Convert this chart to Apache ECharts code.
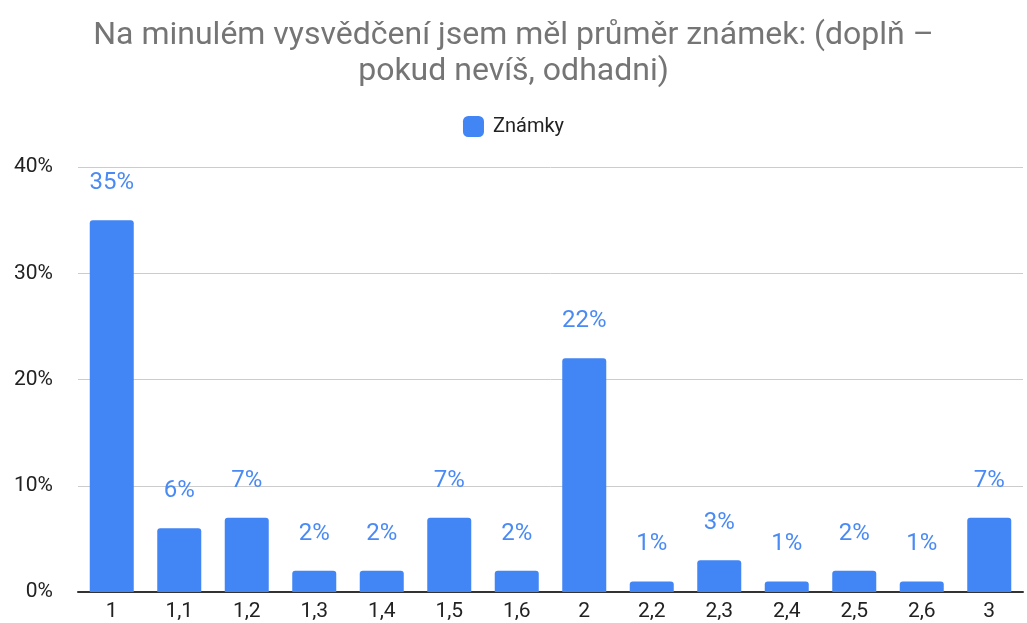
<!DOCTYPE html>
<html>
<head>
<meta charset="utf-8">
<script src="https://cdn.jsdelivr.net/npm/echarts@6/dist/echarts.min.js"></script>
<style>
  html, body { margin: 0; padding: 0; background: #fff; }
  #chart { width: 1027px; height: 623px; }
</style>
</head>
<body>
<div id="chart"></div>
<script>
const titleText = 'Na minulém vysvědčení jsem měl průměr známek: (doplň –\npokud nevíš, odhadni)';
const seriesName = 'Známky';
const categories = ['1', '1,1', '1,2', '1,3', '1,4', '1,5', '1,6', '2', '2,2', '2,3', '2,4', '2,5', '2,6', '3'];
const values = [35, 6, 7, 2, 2, 7, 2, 22, 1, 3, 1, 2, 1, 7];
const yTicks = [0, 10, 20, 30, 40];

const chart = echarts.init(document.getElementById('chart'));

const option = {
  animation: false,
  title: {
    text: titleText,
    left: 'center',
    top: 13,
    textStyle: {
      fontFamily: 'Roboto',
      fontSize: 32,
      fontWeight: 'normal',
      color: '#757575',
      lineHeight: 36,
    },
  },
  legend: {
    data: [seriesName],
    top: 111,
    left: 'center',
    itemWidth: 21,
    itemHeight: 21,
    itemGap: 10,
    icon: 'roundRect',
    textStyle: {
      fontFamily: 'Roboto',
      fontSize: 20,
      color: '#222',
      padding: [0, 0, 0, 4],
    },
  },
  grid: {
    left: 78,
    right: 4,
    top: 167,
    bottom: 31,
  },
  xAxis: {
    type: 'category',
    data: categories,
    axisTick: { show: false },
    axisLine: { lineStyle: { color: '#333', width: 2 } },
    axisLabel: {
      fontFamily: 'Roboto',
      fontSize: 21,
      color: '#222',
      margin: 9,
    },
  },
  yAxis: {
    type: 'value',
    min: yTicks[0],
    max: yTicks[yTicks.length - 1],
    interval: 10,
    axisLabel: {
      fontFamily: 'Roboto',
      fontSize: 21,
      color: '#222',
      margin: 25,
      formatter: '{value}%',
    },
    splitLine: { lineStyle: { color: '#ccc', width: 1 } },
  },
  series: [
    {
      name: seriesName,
      type: 'bar',
      data: values,
      barWidth: 44,
      itemStyle: {
        color: '#4285f4',
        borderRadius: [3, 3, 0, 0],
      },
      label: {
        show: true,
        position: 'top',
        distance: 25,
        formatter: '{c}%',
        fontFamily: 'Roboto',
        fontSize: 24,
        color: '#4a8af4',
      },
    },
  ],
};

chart.setOption(option);
</script>
</body>
</html>
